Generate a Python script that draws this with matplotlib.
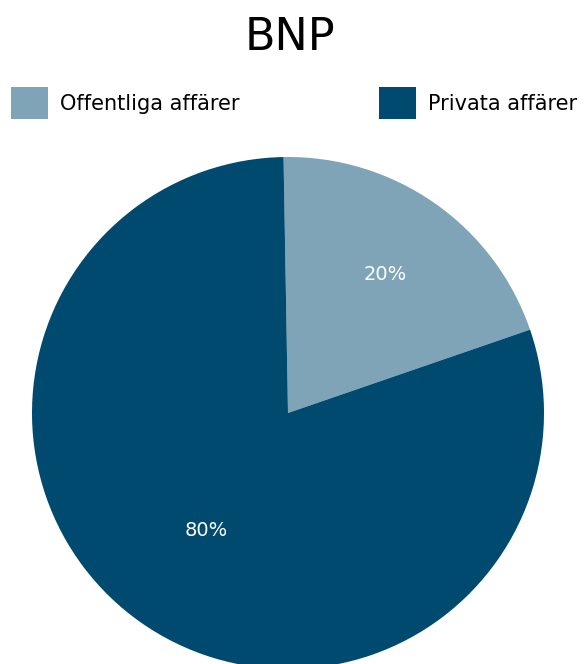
import matplotlib.pyplot as plt
from matplotlib.patches import Patch

labels = ["Offentliga affärer", "Privata affärer"]
values = [20, 80]
colors = ["#7fa4b8", "#004a6f"]

plt.rcParams["font.family"] = ["DejaVu Sans"]

W, H = 585, 664
fig = plt.figure(figsize=(W / 100, H / 100), dpi=100)

# pie: centre (288, 413) px, radius 256 px
cx, cy, r = 288, 413, 256
ax = fig.add_axes([(cx - r) / W, (H - cy - r) / H, 2 * r / W, 2 * r / H])
wedges, texts, autotexts = ax.pie(
    values, colors=colors, startangle=91, counterclock=False,
    autopct="%d%%", pctdistance=0.66, radius=1,
    textprops=dict(color="white", fontsize=14),
    wedgeprops=dict(linewidth=0),
)
# the big slice has its label closer to the centre
x, y = autotexts[1].get_position()
autotexts[1].set_position((x * 0.56 / 0.66, y * 0.56 / 0.66))
for w in wedges:
    w.set_clip_on(False)
ax.set_xlim(-1, 1)
ax.set_ylim(-1, 1)
ax.set_aspect("equal")
ax.axis("off")

fig.text(290 / W, 1 - 37 / H, "BNP", ha="center", va="center", fontsize=32)

for i, (lab, col) in enumerate(zip(labels, colors)):
    x0 = [11, 379][i]
    fig.legend(handles=[Patch(facecolor=col, edgecolor="none", label=lab)],
               loc="center left", bbox_to_anchor=(x0 / W, 1 - 103 / H),
               frameon=False, fontsize=15, handlelength=1.78, handleheight=1.98,
               handletextpad=0.55, borderpad=0, borderaxespad=0)

fig.savefig("out.png", dpi=100)
